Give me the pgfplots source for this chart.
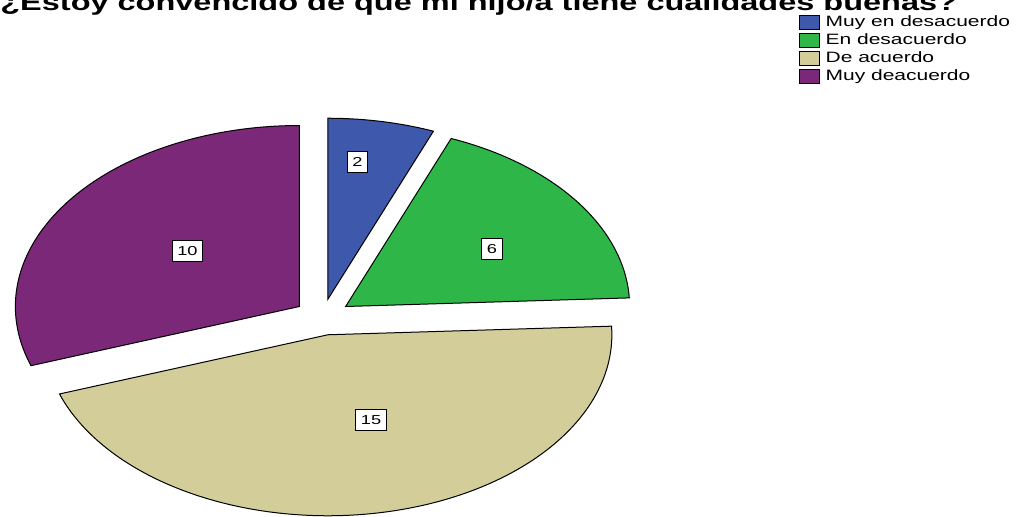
\documentclass[border=0pt]{standalone}
\usepackage{pgfplots}
\pgfplotsset{compat=1.18}
\usepackage{fontspec}
\setmainfont{Liberation Sans}[FakeStretch=1.4]
\definecolor{cA}{RGB}{62,88,171}
\definecolor{cB}{RGB}{46,183,72}
\definecolor{cC}{RGB}{211,206,153}
\definecolor{cD}{RGB}{122,40,119}
\tikzset{lbl/.style={draw=black, fill=white, line width=0.5pt, font=\fontsize{6.5}{7}\selectfont,
    text height=4.7pt, text depth=0pt, inner ysep=3pt, inner xsep=2.6pt}}
% counts
\def\vA{2}\def\vB{6}\def\vC{15}\def\vD{10}
\pgfmathsetmacro\tot{\vA+\vB+\vC+\vD}
\pgfmathsetmacro\aA{90}
\pgfmathsetmacro\aB{\aA-360*\vA/\tot}
\pgfmathsetmacro\aC{\aB-360*\vB/\tot}
\pgfmathsetmacro\aD{\aC-360*\vC/\tot}
\pgfmathsetmacro\aE{\aD-360*\vD/\tot}
\def\ex{0.1}
\pgfmathsetmacro\cxA{\ex*cos((\aA+\aB)/2)}\pgfmathsetmacro\cyA{\ex*sin((\aA+\aB)/2)}
\pgfmathsetmacro\cxB{\ex*cos((\aB+\aC)/2)}\pgfmathsetmacro\cyB{\ex*sin((\aB+\aC)/2)}
\pgfmathsetmacro\cxC{\ex*cos((\aC+\aD)/2)}\pgfmathsetmacro\cyC{\ex*sin((\aC+\aD)/2)}
\pgfmathsetmacro\cxD{\ex*cos((\aD+\aE)/2)}\pgfmathsetmacro\cyD{\ex*sin((\aD+\aE)/2)}
\begin{document}
\begin{tikzpicture}
\useasboundingbox (0,0) rectangle (512pt,258pt);
\clip (0,0) rectangle (512pt,258pt);
\begin{axis}[
  at={(0,0)}, anchor=south west,
  scale only axis, width=512pt, height=258pt,
  hide axis, clip=false,
  xmin=-1.13556, xmax=2.47007, ymin=-1.09945, ymax=1.75138,
  area legend,
  legend style={at={(rel axis cs:0.7795,0.972)}, anchor=north west, draw=none, fill=none,
    inner sep=0pt, row sep=1.6pt, font=\fontsize{7.5}{8}\selectfont,
    nodes={inner sep=0pt, text height=5.5pt, text depth=1.5pt}},
  legend cell align=left,
  legend image code/.code={\draw[#1, draw=black, line width=0.5pt] (0pt,-3.5pt) rectangle (10pt,3.5pt); \path (13pt,0pt);},
]
\addplot[fill=cA, draw=black, line width=0.5pt, domain=\aB:\aA, samples=40, variable=\t]
  ({\cxA+cos(\t)},{\cyA+sin(\t)}) -- (axis cs:\cxA,\cyA) -- cycle;
\addlegendentry{Muy en desacuerdo}
\addplot[fill=cB, draw=black, line width=0.5pt, domain=\aC:\aB, samples=60, variable=\t]
  ({\cxB+cos(\t)},{\cyB+sin(\t)}) -- (axis cs:\cxB,\cyB) -- cycle;
\addlegendentry{En desacuerdo}
\addplot[fill=cC, draw=black, line width=0.5pt, domain=\aD:\aC, samples=120, variable=\t]
  ({\cxC+cos(\t)},{\cyC+sin(\t)}) -- (axis cs:\cxC,\cyC) -- cycle;
\addlegendentry{De acuerdo}
\addplot[fill=cD, draw=black, line width=0.5pt, domain=\aE:\aD, samples=90, variable=\t]
  ({\cxD+cos(\t)},{\cyD+sin(\t)}) -- (axis cs:\cxD,\cyD) -- cycle;
\addlegendentry{Muy deacuerdo}
\node[lbl] at (axis cs:0.1232,0.8564) {2};
\node[lbl] at (axis cs:0.5968,0.3757) {6};
\node[lbl] at (axis cs:-0.4754,0.3646) {10};
\node[lbl] at (axis cs:0.1708,-0.5691) {15};
\node[anchor=base west, inner sep=0pt, font=\bfseries\fontsize{11.6}{13}\selectfont]
  at (rel axis cs:0,{1-10/516}) {¿Estoy convencido de que mi hijo/a tiene cualidades buenas?};
\end{axis}
\end{tikzpicture}
\end{document}
